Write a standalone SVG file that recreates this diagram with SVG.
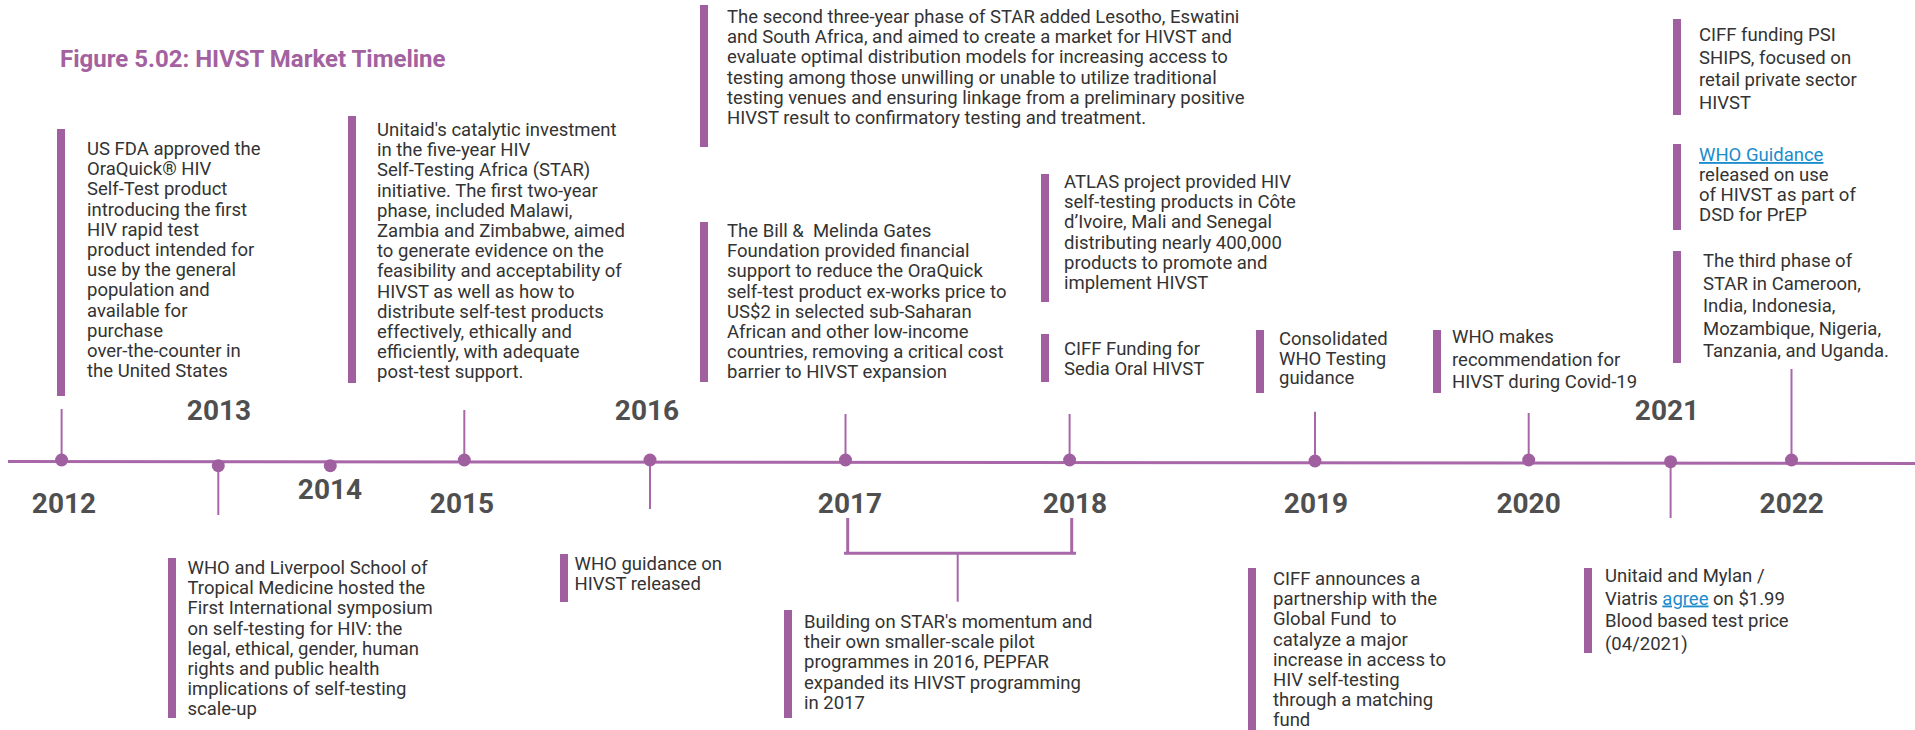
<svg xmlns="http://www.w3.org/2000/svg" width="1915" height="730" viewBox="0 0 1915 730">
<style>
.t{font-family:Roboto,"Liberation Sans",sans-serif;font-size:18.5px;fill:#333333}
.yr{font-family:Roboto,"Liberation Sans",sans-serif;font-size:28px;font-weight:bold;fill:#4f4f4f;text-anchor:middle}
.ttl{font-family:Roboto,"Liberation Sans",sans-serif;font-size:24px;font-weight:bold;fill:#a3619f}
.bar{fill:#a0609f}
.dot{fill:#a0609f}
.stem{stroke:#a867a8;stroke-width:2;fill:none}
.axis{stroke:#a867a8;stroke-width:3;fill:none}
.lnk{fill:#1b8ccc;text-decoration:underline}
</style>
<rect width="1915" height="730" fill="#ffffff"/>
<text class="ttl" x="60" y="67">Figure 5.02: HIVST Market Timeline</text>

<g id="connectors">
<line class="axis" x1="8" y1="461.5" x2="1915" y2="463.5"/>
<line class="stem" x1="61.6" y1="409" x2="61.6" y2="460"/>
<line class="stem" x1="218.3" y1="465" x2="218.3" y2="515"/>
<line class="stem" x1="464.3" y1="410" x2="464.3" y2="460"/>
<line class="stem" x1="650" y1="460" x2="650" y2="509"/>
<line class="stem" x1="845.5" y1="414" x2="845.5" y2="460"/>
<line class="stem" x1="1069.6" y1="414" x2="1069.6" y2="460"/>
<line class="stem" x1="1315" y1="411.7" x2="1315" y2="461"/>
<line class="stem" x1="1528.7" y1="413" x2="1528.7" y2="460"/>
<line class="stem" x1="1670.6" y1="462" x2="1670.6" y2="518"/>
<line class="stem" x1="1791.5" y1="369" x2="1791.5" y2="460"/>
<g id="bracket-2017-2018">
<line class="axis" x1="847.7" y1="518" x2="847.7" y2="553.3"/>
<line class="axis" x1="1071.7" y1="518" x2="1071.7" y2="553.3"/>
<line class="axis" x1="844" y1="553.3" x2="1076" y2="553.3"/>
<line class="stem" x1="957.7" y1="553.3" x2="957.7" y2="601.7"/>
</g>
</g>

<g id="y2012"><circle class="dot" cx="61.6" cy="460" r="6.5"/><text class="yr" x="64" y="513">2012</text></g>
<g id="y2013"><circle class="dot" cx="218.3" cy="465.7" r="6.5"/><text class="yr" x="219" y="420">2013</text></g>
<g id="y2014"><circle class="dot" cx="330.3" cy="465.7" r="6.5"/><text class="yr" x="330" y="499">2014</text></g>
<g id="y2015"><circle class="dot" cx="464.3" cy="460" r="6.5"/><text class="yr" x="462" y="513">2015</text></g>
<g id="y2016"><circle class="dot" cx="650" cy="460" r="6.5"/><text class="yr" x="647" y="420">2016</text></g>
<g id="y2017"><circle class="dot" cx="845.5" cy="460" r="6.5"/><text class="yr" x="850" y="513">2017</text></g>
<g id="y2018"><circle class="dot" cx="1069.6" cy="460" r="6.5"/><text class="yr" x="1075" y="513">2018</text></g>
<g id="y2019"><circle class="dot" cx="1315" cy="461" r="6.5"/><text class="yr" x="1316" y="513">2019</text></g>
<g id="y2020"><circle class="dot" cx="1528.7" cy="460" r="6.5"/><text class="yr" x="1528.6" y="513">2020</text></g>
<g id="y2021"><circle class="dot" cx="1670.6" cy="461.7" r="6.5"/><text class="yr" x="1667" y="420">2021</text></g>
<g id="y2022"><circle class="dot" cx="1791.5" cy="460" r="6.5"/><text class="yr" x="1791.7" y="513">2022</text></g>

<g id="ev-fda">
<rect class="bar" x="57" y="129" width="8" height="267"/>
<text class="t"><tspan x="87" y="155">US FDA approved the</tspan><tspan x="87" y="175.2">OraQuick® HIV</tspan><tspan x="87" y="195.4">Self-Test product</tspan><tspan x="87" y="215.6">introducing the first</tspan><tspan x="87" y="235.8">HIV rapid test</tspan><tspan x="87" y="256">product intended for</tspan><tspan x="87" y="276.2">use by the general</tspan><tspan x="87" y="296.4">population and</tspan><tspan x="87" y="316.6">available for</tspan><tspan x="87" y="336.8">purchase</tspan><tspan x="87" y="357">over-the-counter in</tspan><tspan x="87" y="377.2">the United States</tspan></text>
</g>

<g id="ev-unitaid-star">
<rect class="bar" x="348" y="116" width="8" height="267"/>
<text class="t"><tspan x="377" y="136">Unitaid's catalytic investment</tspan><tspan x="377" y="156.2">in the five-year HIV</tspan><tspan x="377" y="176.4">Self-Testing Africa (STAR)</tspan><tspan x="377" y="196.6">initiative. The first two-year</tspan><tspan x="377" y="216.8">phase, included Malawi,</tspan><tspan x="377" y="237">Zambia and Zimbabwe, aimed</tspan><tspan x="377" y="257.2">to generate evidence on the</tspan><tspan x="377" y="277.4">feasibility and acceptability of</tspan><tspan x="377" y="297.6">HIVST as well as how to</tspan><tspan x="377" y="317.8">distribute self-test products</tspan><tspan x="377" y="338">effectively, ethically and</tspan><tspan x="377" y="358.2">efficiently, with adequate</tspan><tspan x="377" y="378.4">post-test support.</tspan></text>
</g>

<g id="ev-star-phase2">
<rect class="bar" x="700" y="5" width="8" height="142"/>
<text class="t"><tspan x="727" y="23">The second three-year phase of STAR added Lesotho, Eswatini</tspan><tspan x="727" y="43.2">and South Africa, and aimed to create a market for HIVST and</tspan><tspan x="727" y="63.4">evaluate optimal distribution models for increasing access to</tspan><tspan x="727" y="83.6">testing among those unwilling or unable to utilize traditional</tspan><tspan x="727" y="103.8">testing venues and ensuring linkage from a preliminary positive</tspan><tspan x="727" y="124">HIVST result to confirmatory testing and treatment.</tspan></text>
</g>

<g id="ev-gates">
<rect class="bar" x="700" y="222" width="8" height="160"/>
<text class="t"><tspan x="727" y="237" xml:space="preserve">The Bill &amp;  Melinda Gates</tspan><tspan x="727" y="257.2">Foundation provided financial</tspan><tspan x="727" y="277.4">support to reduce the OraQuick</tspan><tspan x="727" y="297.6">self-test product ex-works price to</tspan><tspan x="727" y="317.8">US$2 in selected sub-Saharan</tspan><tspan x="727" y="338">African and other low-income</tspan><tspan x="727" y="358.2">countries, removing a critical cost</tspan><tspan x="727" y="378.4">barrier to HIVST expansion</tspan></text>
</g>

<g id="ev-atlas">
<rect class="bar" x="1041" y="174" width="8" height="128"/>
<text class="t"><tspan x="1064" y="188">ATLAS project provided HIV</tspan><tspan x="1064" y="208.2">self-testing products in Côte</tspan><tspan x="1064" y="228.4">d’Ivoire, Mali and Senegal</tspan><tspan x="1064" y="248.6">distributing nearly 400,000</tspan><tspan x="1064" y="268.8">products to promote and</tspan><tspan x="1064" y="289">implement HIVST</tspan></text>
</g>

<g id="ev-ciff-sedia">
<rect class="bar" x="1041" y="334" width="8" height="48"/>
<text class="t"><tspan x="1064" y="355">CIFF Funding for</tspan><tspan x="1064" y="375.2">Sedia Oral HIVST</tspan></text>
</g>

<g id="ev-consolidated">
<rect class="bar" x="1256" y="330" width="8" height="63"/>
<text class="t"><tspan x="1279" y="345">Consolidated</tspan><tspan x="1279" y="365">WHO Testing</tspan><tspan x="1279" y="384">guidance</tspan></text>
</g>

<g id="ev-covid">
<rect class="bar" x="1433" y="330" width="8" height="63"/>
<text class="t"><tspan x="1452" y="343">WHO makes</tspan><tspan x="1452" y="365.5">recommendation for</tspan><tspan x="1452" y="388">HIVST during Covid-19</tspan></text>
</g>

<g id="ev-ciff-ships">
<rect class="bar" x="1673" y="19" width="8" height="96"/>
<text class="t"><tspan x="1699" y="41">CIFF funding PSI</tspan><tspan x="1699" y="63.5">SHIPS, focused on</tspan><tspan x="1699" y="86">retail private sector</tspan><tspan x="1699" y="108.5">HIVST</tspan></text>
</g>

<g id="ev-who-prep">
<rect class="bar" x="1673" y="144" width="8" height="86"/>
<text class="t"><tspan x="1699" y="161" class="lnk">WHO Guidance</tspan><tspan x="1699" y="181">released on use</tspan><tspan x="1699" y="201">of HIVST as part of</tspan><tspan x="1699" y="221">DSD for PrEP</tspan></text>
</g>

<g id="ev-star-phase3">
<rect class="bar" x="1673" y="251" width="8" height="112"/>
<text class="t"><tspan x="1703" y="267">The third phase of</tspan><tspan x="1703" y="289.5">STAR in Cameroon,</tspan><tspan x="1703" y="312">India, Indonesia,</tspan><tspan x="1703" y="334.5">Mozambique, Nigeria,</tspan><tspan x="1703" y="357">Tanzania, and Uganda.</tspan></text>
</g>

<g id="ev-liverpool">
<rect class="bar" x="168" y="558" width="8" height="160"/>
<text class="t"><tspan x="187.5" y="574">WHO and Liverpool School of</tspan><tspan x="187.5" y="594.2">Tropical Medicine hosted the</tspan><tspan x="187.5" y="614.4">First International symposium</tspan><tspan x="187.5" y="634.6">on self-testing for HIV: the</tspan><tspan x="187.5" y="654.8">legal, ethical, gender, human</tspan><tspan x="187.5" y="675">rights and public health</tspan><tspan x="187.5" y="695.2">implications of self-testing</tspan><tspan x="187.5" y="715.4">scale-up</tspan></text>
</g>

<g id="ev-who-2016">
<rect class="bar" x="560" y="554" width="8" height="48"/>
<text class="t"><tspan x="574.5" y="570">WHO guidance on</tspan><tspan x="574.5" y="590.2">HIVST released</tspan></text>
</g>

<g id="ev-pepfar">
<rect class="bar" x="784" y="610" width="8" height="108"/>
<text class="t"><tspan x="804" y="628">Building on STAR's momentum and</tspan><tspan x="804" y="648.2">their own smaller-scale pilot</tspan><tspan x="804" y="668.4">programmes in 2016, PEPFAR</tspan><tspan x="804" y="688.6">expanded its HIVST programming</tspan><tspan x="804" y="708.8">in 2017</tspan></text>
</g>

<g id="ev-ciff-gf">
<rect class="bar" x="1248" y="568" width="8" height="162"/>
<text class="t"><tspan x="1273" y="585">CIFF announces a</tspan><tspan x="1273" y="605.2">partnership with the</tspan><tspan x="1273" y="625.4" xml:space="preserve">Global Fund  to</tspan><tspan x="1273" y="645.6">catalyze a major</tspan><tspan x="1273" y="665.8">increase in access to</tspan><tspan x="1273" y="686">HIV self-testing</tspan><tspan x="1273" y="706.2">through a matching</tspan><tspan x="1273" y="726.4">fund</tspan></text>
</g>

<g id="ev-mylan">
<rect class="bar" x="1584" y="568" width="8" height="85"/>
<text class="t"><tspan x="1605" y="582">Unitaid and Mylan /</tspan><tspan x="1605" y="604.5">Viatris <tspan class="lnk">agree</tspan> on $1.99</tspan><tspan x="1605" y="627">Blood based test price</tspan><tspan x="1605" y="649.5">(04/2021)</tspan></text>
</g>
</svg>
